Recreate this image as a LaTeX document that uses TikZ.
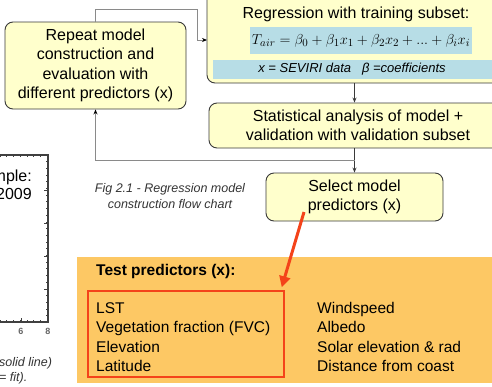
\documentclass[tikz,border=0pt]{standalone}
\usepackage{fontspec}
\setmainfont{Liberation Sans}
\usetikzlibrary{arrows.meta}
\definecolor{boxfill}{HTML}{FFFFCC}
\definecolor{boxline}{HTML}{3A3A3A}
\definecolor{bandblue}{HTML}{B7DDE6}
\definecolor{orangebg}{HTML}{FDC864}
\definecolor{redline}{HTML}{F4431A}
\definecolor{loopgray}{HTML}{8A8A8A}
\definecolor{captxt}{HTML}{333333}
\tikzset{
  flowbox/.style={draw=boxline, line width=0.9pt, fill=boxfill, rounded corners=8pt, align=center, inner sep=0pt, font=\fontsize{16}{19.5}\selectfont},
  bandbox/.style={fill=bandblue, inner sep=0pt},
  looparrow/.style={draw=loopgray, line width=0.9pt, -{Stealth[length=5pt,width=4pt,black]}},
  downarrow/.style={draw=boxline, line width=0.9pt, -{Stealth[length=5pt,width=4pt]}},
  redarrow/.style={draw=redline, line width=3pt, -{Triangle[length=11pt,width=11pt]}},
  captionstyle/.style={font=\fontsize{12.5}{16}\selectfont\itshape, text=captxt, align=center, inner sep=0pt},
  listtext/.style={font=\fontsize{15.5}{19.4}\selectfont, align=left, inner sep=0pt, anchor=west},
  plotframe/.style={draw=black!75, line width=1.3pt},
  plottick/.style={draw=black!75, line width=0.9pt}
}
\begin{document}
\begin{tikzpicture}[x=1pt,y=-1pt]
\useasboundingbox (0,0) rectangle (492,386);
\clip (0,0) rectangle (492,386);

% partial plot at left
\draw[plotframe] (-10,155) -- (48,155) -- (48,322) -- (-10,322);
\foreach \yy in {161.7,168.4,...,318} {\draw[plottick] (48,\yy) -- (46,\yy);}
\foreach \yy in {190,223,256,289} {\draw[plottick] (48,\yy) -- (44,\yy);}
\foreach \xx in {0,6.75,...,44} {\draw[plottick] (\xx,322) -- (\xx,320); \draw[plottick] (\xx,155) -- (\xx,157);}
\foreach \xx in {21,48} {\draw[plottick] (\xx,322) -- (\xx,318);}
\node[font=\fontsize{16}{19}\selectfont, anchor=east, inner sep=0pt] (pl1) at (32,177) {mple:};
\node[font=\fontsize{16}{19}\selectfont, anchor=east, inner sep=0pt] (pl2) at (32,194) {2009};
\node[font=\fontsize{9}{10}\selectfont\bfseries, text=black!60, inner sep=0pt] (t6) at (21,331) {6};
\node[font=\fontsize{9}{10}\selectfont\bfseries, text=black!60, inner sep=0pt] (t8) at (48,331) {8};
\node[font=\fontsize{12.5}{15}\selectfont\itshape, text=captxt, anchor=west, inner sep=0pt] (pc1) at (-1,363) {solid line)};
\node[font=\fontsize{12.5}{15}\selectfont\itshape, text=captxt, anchor=west, inner sep=0pt] (pc2) at (-1,378) {= fit).};

% flow chart boxes
\node[flowbox, minimum width=181pt, minimum height=87pt] (rep) at (95.5,65.5)
  {Repeat model\\construction and\\evaluation with\\different predictors (x)};
\node[flowbox, minimum width=298pt, minimum height=103pt] (reg) at (356,31.5) {};
\node[font=\fontsize{16}{19.5}\selectfont, inner sep=0pt] (regt) at (356,14) {Regression with training subset:};
\node[bandbox, minimum width=222pt, minimum height=27pt, font=\fontsize{15}{18}\selectfont] (eq) at (361,40.5)
  {$T_{air}=\beta_0+\beta_1x_1+\beta_2x_2+{.}{.}{.}+\beta_ix_i$};
\node[bandbox, minimum width=286pt, minimum height=19pt] (band) at (356,69.5) {};
\node[font=\fontsize{13}{15}\selectfont\itshape, inner sep=0pt] (bandt) at (352,69.5) {x = SEVIRI data \ \ β =coefficients};
\node[flowbox, minimum width=298pt, minimum height=45pt] (stat) at (358,125.5)
  {Statistical analysis of model +\\validation with validation subset};
\node[flowbox, minimum width=177pt, minimum height=48pt] (sel) at (354.5,197)
  {Select model\\predictors (x)};

\node[captionstyle] (cap) at (170,196) {Fig 2.1 - Regression model\\construction flow chart};

% connectors
\draw[downarrow] (reg.south -| sel.north) -- (stat.north -| sel.north);
\draw[downarrow] (stat.south -| sel.north) -- (sel.north);
\coordinate (j) at (354.5,160);
\draw[looparrow] (j) -| (rep.south);
\coordinate (t1) at (197,9);
\coordinate (t2) at (207,40);
\draw[looparrow] (rep.north) |- (t1) |- (t2);

% predictors panel
\node[fill=orangebg, minimum width=415pt, minimum height=126pt, inner sep=0pt] (panel) at (284.5,320) {};
\node[font=\fontsize{15.5}{18}\selectfont\bfseries, anchor=west, inner sep=0pt] (ptitle) at (96,271) {Test predictors (x):};
\node[draw=redline, line width=1.5pt, minimum width=196pt, minimum height=86pt, inner sep=0pt] (red) at (186,334) {};
\node[listtext] (left) at (96,337) {LST\\Vegetation fraction (FVC)\\Elevation\\Latitude};
\node[listtext] (right) at (317,337) {Windspeed\\Albedo\\Solar elevation \& rad\\Distance from coast};

\coordinate (rs) at (304,212);
\draw[redarrow] (rs) -- ([xshift=-3pt,yshift=3pt]red.north east);
\end{tikzpicture}
\end{document}
